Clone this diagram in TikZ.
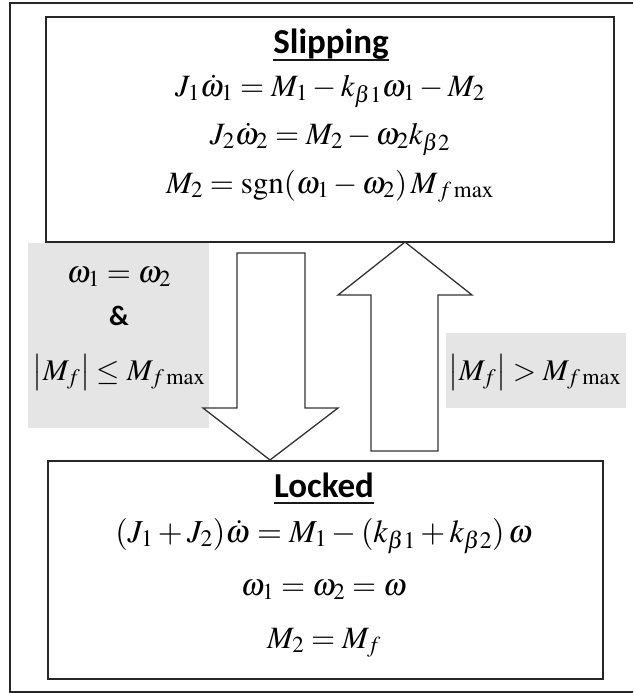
\documentclass[tikz,border=0pt]{standalone}
\usepackage{mathptmx}
\usepackage[no-math]{fontspec}
\newfontfamily\titlefont{Carlito}
\begin{document}
\begin{tikzpicture}[x=1pt,y=-1pt,
  box/.style={draw=black!85, line width=2.6pt, inner sep=0pt},
  blockarrow/.style={draw=black!80, line width=1.3pt, fill=white, line join=miter},
  cond/.style={fill=black!10},
  eq/.style={anchor=base, inner sep=0pt, font=\fontsize{31}{37}\selectfont},
  ttl/.style={anchor=base, inner sep=0pt, font=\fontsize{35}{42}\selectfont\titlefont\bfseries},
  uline/.style={draw=black!90, line width=2.8pt}]
\useasboundingbox (0,0) rectangle (633,693);
% outer frame
\draw[line width=2.2pt, black!85] (633,3) -- (10,3) -- (10,692) -- (633,692);
% condition backgrounds
\fill[cond] (28,243) rectangle (209,428);
\fill[cond] (446,333) rectangle (626,408);
% state boxes
\node[box, minimum width=568pt, minimum height=225pt] (slip) at (330,129.5) {};
\node[box, minimum width=555pt, minimum height=218pt] (lock) at (325.5,570) {};
% block arrows
\coordinate (dtip) at (270,460);
\coordinate (utip) at (405,242);
\draw[blockarrow] (237,253) -- (305,253) -- (305,408) -- (338,408) -- (dtip) -- (203,408) -- (237,408) -- cycle;
\draw[blockarrow] (371,451) -- (438,451) -- (438,295) -- (472,295) -- (utip) -- (338,295) -- (371,295) -- cycle;
% Slipping
\node[ttl] (slipT) at (331,53) {Slipping};
\draw[uline] (slipT.west |- 0,60) -- (slipT.east |- 0,60);
\node[eq] (s1) at (330,96) {$J_1\dot\omega_1 = M_1 - k_{\beta1}\omega_1 - M_2$};
\node[eq] (s2) at (330,144) {$J_2\dot\omega_2 = M_2 - \omega_2 k_{\beta2}$};
\node[eq] (s3) at (330,193) {$M_2 = \mathrm{sgn}(\omega_1-\omega_2)\,M_{\,f\max}$};
% Locked
\node[ttl] (lockT) at (324,497) {Locked};
\draw[uline] (lockT.west |- 0,503) -- (lockT.east |- 0,503);
\node[eq, font=\fontsize{32}{38}\selectfont] (l1) at (324,542) {$(J_1+J_2)\dot\omega = M_1-(k_{\beta1}+k_{\beta2})\,\omega$};
\node[eq] (l2) at (324,595) {$\omega_1=\omega_2=\omega$};
\node[eq] (l3) at (324,648) {$M_2 = M_f$};
% conditions
\node[eq] (c1) at (119,282) {$\omega_1=\omega_2$};
\node[anchor=base, inner sep=0pt, font=\fontsize{28}{34}\selectfont\titlefont\bfseries] (c2) at (119,325) {\&};
\node[eq, font=\fontsize{30}{36}\selectfont] (c3) at (119,380) {$\left|M_f\right| \le M_{f\max}$};
\node[eq, font=\fontsize{30}{36}\selectfont] (c4) at (535,380) {$\left|M_f\right| > M_{f\max}$};
\end{tikzpicture}
\end{document}
